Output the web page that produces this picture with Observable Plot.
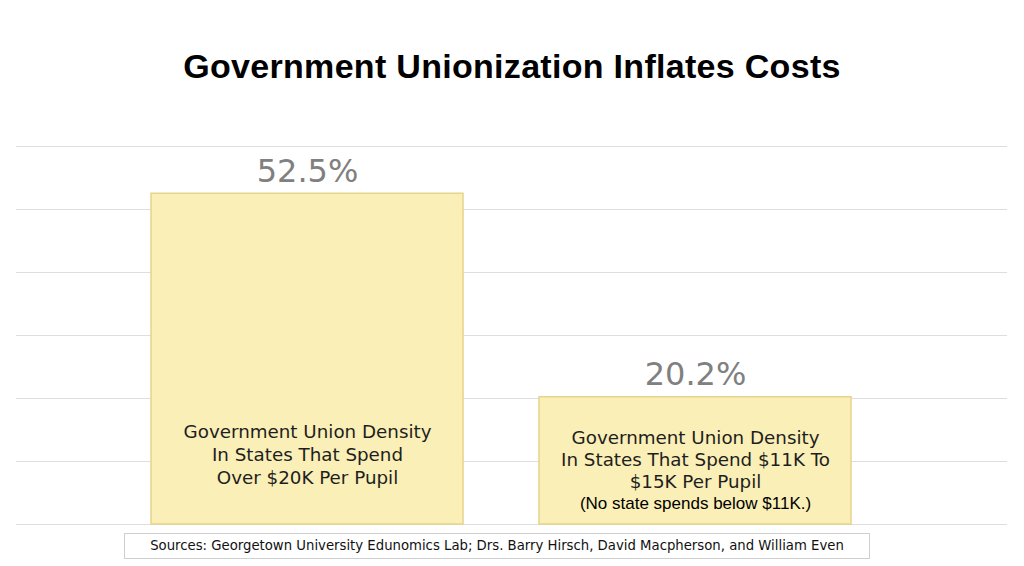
<!DOCTYPE html>
<html>
<head>
<meta charset="utf-8">
<script src="https://cdn.jsdelivr.net/npm/d3@7"></script>
<script src="https://cdn.jsdelivr.net/npm/@observablehq/plot@0.6"></script>
<style>
  html, body { margin: 0; padding: 0; background: #fff; }
  #page { position: relative; width: 1024px; height: 566px; overflow: hidden; }
  #title {
    position: absolute; left: 0; top: 49px; width: 1024px;
    text-align: center; font: bold 34px "Liberation Sans", Arial, sans-serif;
    letter-spacing: 0.3px; line-height: 1; color: #000;
  }
  #chart { position: absolute; left: 0; top: 100px; }
  #sources {
    position: absolute; left: 124px; top: 533px; width: 744px; height: 24px;
    border: 1px solid #cfcfcf; background: #fff;
    font: 13.25px "DejaVu Sans", Verdana, sans-serif; color: #111;
    text-align: center; line-height: 24px;
  }
</style>
</head>
<body>
<div id="page">
  <div id="title">Government Unionization Inflates Costs</div>
  <div id="chart"></div>
  <div id="sources">Sources: Georgetown University Edunomics Lab; Drs. Barry Hirsch, David Macpherson, and William Even</div>
</div>
<script>
// Spending tiers and the share of government workers who are union members
const categories = ["Over $20K", "$11K to $15K"];
const density = [52.5, 20.2];
const descriptions = [
  "Government Union Density\nIn States That Spend\nOver $20K Per Pupil",
  "Government Union Density\nIn States That Spend $11K To\n$15K Per Pupil"
];
const footnotes = ["", "(No state spends below $11K.)"];
const gridTicks = [0, 10, 20, 30, 40, 50, 60];

const rows = categories.map((c, i) => ({
  category: c,
  value: density[i],
  description: descriptions[i],
  footnote: footnotes[i]
}));

const fmt = d3.format(".1f");
const sans = "'DejaVu Sans', Verdana, sans-serif";

const chart = Plot.plot({
  width: 1024,
  height: 432,
  marginTop: 46,
  marginBottom: 8,
  marginLeft: 16,
  marginRight: 17,
  style: { fontFamily: sans, background: "transparent" },
  x: { domain: categories, range: [151, 851], paddingInner: 0.196, paddingOuter: 0, axis: null },
  y: { domain: [0, 60], axis: null },
  marks: [
    Plot.ruleY(gridTicks, { stroke: "#dedede", strokeWidth: 1.2 }),
    Plot.barY(rows, {
      x: "category", y: "value",
      fill: "#faefb6", stroke: "#e6d48c", strokeWidth: 1.5
    }),
    Plot.text(rows, {
      x: "category", y: "value",
      text: d => `${fmt(d.value)}%`,
      lineAnchor: "bottom", dy: -12,
      fontSize: 32, fill: "#808080", fontFamily: sans
    }),
    Plot.text(rows.slice(0, 1), {
      x: "category", y: 0,
      text: "description",
      lineAnchor: "bottom", lineHeight: 1.23, dy: -41,
      fontSize: 18.3, fill: "#1e1e1e", fontFamily: sans
    }),
    Plot.text(rows.slice(1), {
      x: "category", y: 0,
      text: "description",
      lineAnchor: "bottom", lineHeight: 1.2, dy: -37,
      fontSize: 18.3, fill: "#1e1e1e", fontFamily: sans
    }),
    Plot.text(rows.filter(d => d.footnote), {
      x: "category", y: 0,
      text: "footnote",
      lineAnchor: "bottom", dy: -16,
      fontSize: 17, fill: "#000", fontFamily: "'Liberation Sans', Arial, sans-serif"
    })
  ]
});

document.getElementById("chart").appendChild(chart);
</script>
</body>
</html>
